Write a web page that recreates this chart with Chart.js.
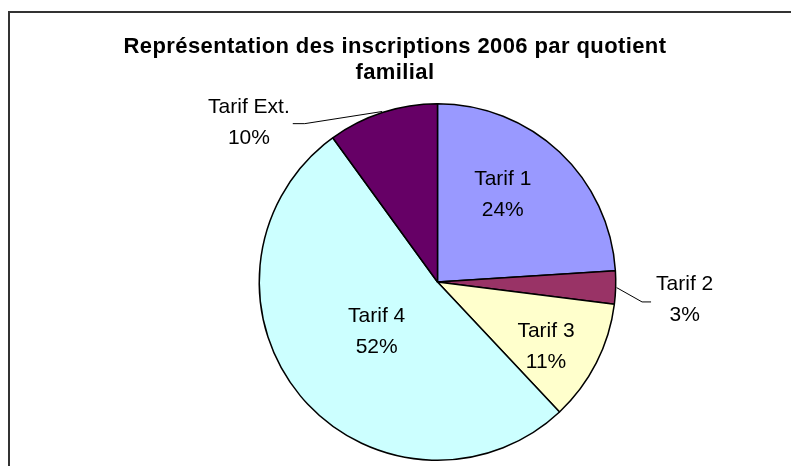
<!DOCTYPE html>
<html>
<head>
<meta charset="utf-8">
<script src="https://cdn.jsdelivr.net/npm/chart.js"></script>
<style>
  html, body { margin: 0; padding: 0; background: #fff; }
  #wrap { width: 791px; height: 466px; position: relative; }
</style>
</head>
<body>
<div id="wrap"><canvas id="pie"></canvas></div>
<script>
// données
const categories = ['Tarif 1', 'Tarif 2', 'Tarif 3', 'Tarif 4', 'Tarif Ext.'];
const percentages = [24, 3, 11, 52, 10];
const titleLines = ['Représentation des inscriptions 2006 par quotient', 'familial'];

const sliceColors = ['#9999FF', '#993366', '#FFFFCC', '#CCFFFF', '#660066'];
const FONT = '"Liberation Sans", Arial, sans-serif';

// placement des étiquettes (rayon relatif, décalage d'angle, côté du trait de rappel)
const labelPlacement = [
    { r: 0.613, da: -0.114 },
    { r: 1.39, da: 0.039, leader: 'left' },
    { r: 0.709, da: 0.067 },
    { r: 0.439, da: 0.01 },
    { r: 1.385, da: -0.555, leader: 'right' }
];

const frameAndText = {
    id: 'frameAndText',
    beforeDraw(chart) {
        const ctx = chart.ctx;
        ctx.save();
        ctx.fillStyle = '#333';
        ctx.fillRect(8, 11, chart.width - 8, 2);
        ctx.fillRect(8, 11, 2, chart.height - 11);

        ctx.fillStyle = '#000';
        ctx.font = 'bold 22px ' + FONT;
        ctx.letterSpacing = '0.4px';
        ctx.textAlign = 'center';
        ctx.textBaseline = 'middle';
        ctx.fillText(titleLines[0], 395, 47);
        ctx.fillText(titleLines[1], 395, 73);
        ctx.restore();
    },
    afterDatasetsDraw(chart) {
        const ctx = chart.ctx;
        const meta = chart.getDatasetMeta(0);
        ctx.save();
        ctx.font = '21px ' + FONT;
        ctx.textAlign = 'center';
        ctx.textBaseline = 'middle';
        ctx.fillStyle = '#000';
        ctx.strokeStyle = '#000';
        ctx.lineWidth = 1;
        meta.data.forEach((arc, i) => {
            const p = arc.getProps(['x', 'y', 'startAngle', 'endAngle', 'outerRadius'], true);
            const mid = (p.startAngle + p.endAngle) / 2;
            const pl = labelPlacement[i];
            const ang = mid + pl.da;
            const cx = p.x + Math.cos(ang) * p.outerRadius * pl.r;
            const cy = p.y + Math.sin(ang) * p.outerRadius * pl.r;
            const line1 = categories[i];
            const line2 = percentages[i] + '%';
            const w = Math.max(ctx.measureText(line1).width, ctx.measureText(line2).width);

            if (pl.leader) {
                const ex = p.x + Math.cos(mid) * (p.outerRadius + 1);
                const ey = p.y + Math.sin(mid) * (p.outerRadius + 1);
                ctx.beginPath();
                ctx.moveTo(ex, ey);
                if (pl.leader === 'left') {
                    const lx = cx - w / 2;
                    ctx.lineTo(lx - 14, cy + 2.5);
                    ctx.lineTo(lx - 5, cy + 2.5);
                } else {
                    const rx = cx + w / 2;
                    ctx.lineTo(rx + 15, cy + 1);
                    ctx.lineTo(rx + 3, cy + 1);
                }
                ctx.stroke();
            }

            ctx.fillText(line1, cx, cy - 15.5);
            ctx.fillText(line2, cx, cy + 15.5);
        });
        ctx.restore();
    }
};

new Chart(document.getElementById('pie'), {
    type: 'pie',
    data: {
        labels: categories,
        datasets: [{
            data: percentages,
            backgroundColor: sliceColors,
            borderColor: '#000',
            borderWidth: 1.5
        }]
    },
    options: {
        responsive: true,
        maintainAspectRatio: false,
        animation: false,
        layout: {
            padding: { top: 103, bottom: 5, left: 84, right: 0 }
        },
        plugins: {
            legend: { display: false },
            tooltip: { enabled: false },
            title: { display: false }
        }
    },
    plugins: [frameAndText]
});
</script>
</body>
</html>
